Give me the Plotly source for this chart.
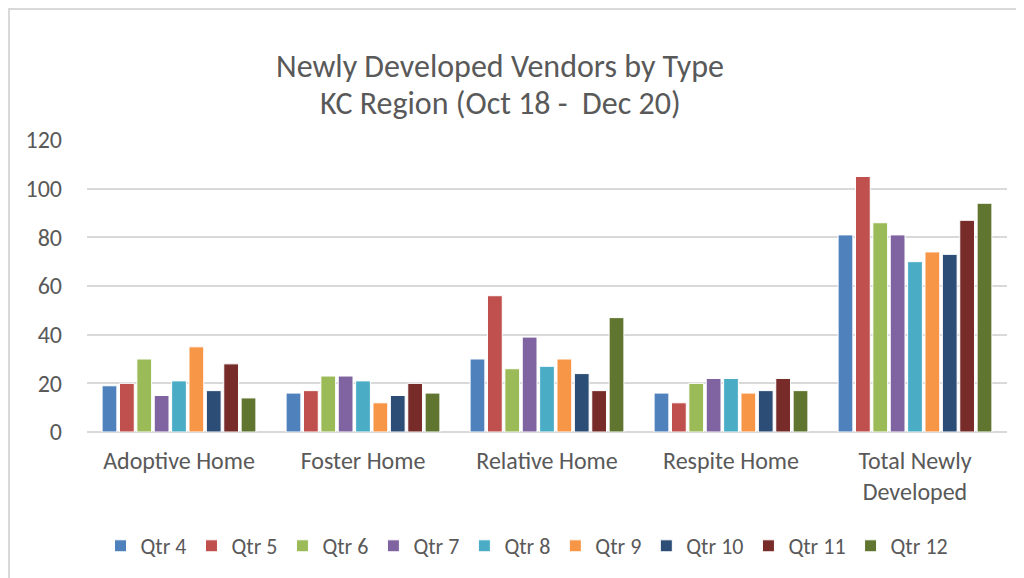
import plotly.graph_objects as go

categories = ["Adoptive Home", "Foster Home", "Relative Home", "Respite Home", "Total Newly<br>Developed"]
series_names = ["Qtr 4", "Qtr 5", "Qtr 6", "Qtr 7", "Qtr 8", "Qtr 9", "Qtr 10", "Qtr 11", "Qtr 12"]
qtr4 = [19, 16, 30, 16, 81]
qtr5 = [20, 17, 56, 12, 105]
qtr6 = [30, 23, 26, 20, 86]
qtr7 = [15, 23, 39, 22, 81]
qtr8 = [21, 21, 27, 22, 70]
qtr9 = [35, 12, 30, 16, 74]
qtr10 = [17, 15, 24, 17, 73]
qtr11 = [28, 20, 17, 22, 87]
qtr12 = [14, 16, 47, 17, 94]
colors = ["#4F81BD", "#C0504D", "#9BBB59", "#8064A2", "#4BACC6", "#F79646", "#2C4D75", "#772C2A", "#5F7530"]
y_ticks = [0, 20, 40, 60, 80, 100, 120]

series_values = [qtr4, qtr5, qtr6, qtr7, qtr8, qtr9, qtr10, qtr11, qtr12]

# page renders with an 8px body offset; work in page pixels and convert
OFF = 8
W, H = 1024 - OFF, 578 - OFF
ml, mr, mt, mb = 87 - OFF, 1024 - 1007, 140 - OFF, 578 - 432
pw, ph = W - ml - mr, H - mt - mb

def px_x(p):
    return (p - OFF - ml) / pw

def px_y(p):
    return (H - mb - (p - OFF)) / ph

font_family = "Carlito, Calibri, Lato, 'Open Sans', sans-serif"
gray = "#595959"

fig = go.Figure()
for name, vals, col in zip(series_names, series_values, colors):
    fig.add_trace(go.Bar(
        name=name, x=categories, y=vals,
        marker=dict(color=col, line=dict(color="white", width=1)),
    ))

fig.update_layout(
    width=W, height=H,
    margin=dict(l=ml, r=mr, t=mt, b=mb, autoexpand=False),
    paper_bgcolor="white", plot_bgcolor="white",
    barmode="group", bargap=0.15, bargroupgap=0.15,
    font=dict(family=font_family, color=gray, size=24),
    showlegend=True,
    legend=dict(orientation="h", x=px_x(527), xanchor="center", y=px_y(546), yanchor="middle",
                font=dict(size=22, color=gray), traceorder="normal", tracegroupgap=0, itemwidth=30),
    xaxis=dict(showline=False, ticks="", tickfont=dict(size=24, color=gray), ticklabelstandoff=12,
               automargin=False),
    yaxis=dict(range=[0, 120], tickvals=y_ticks, showgrid=True, gridcolor="#d9d9d9", gridwidth=1.5,
               zeroline=True, zerolinecolor="#d9d9d9", zerolinewidth=1.5,
               tickfont=dict(size=24, color=gray), ticklabelstandoff=24, automargin=False),
    annotations=[
        dict(text="Newly Developed Vendors by Type", x=px_x(500), y=px_y(66), xref="paper", yref="paper",
             showarrow=False, xanchor="center", yanchor="middle", font=dict(size=32, color=gray)),
        dict(text="KC Region (Oct 18 -  Dec 20)", x=px_x(500), y=px_y(104), xref="paper", yref="paper",
             showarrow=False, xanchor="center", yanchor="middle", font=dict(size=32, color=gray)),
    ],
    shapes=[
        dict(type="line", xref="paper", yref="paper", x0=px_x(8), x1=px_x(1024), y0=px_y(9), y1=px_y(9),
             line=dict(color="#d9d9d9", width=2)),
        dict(type="line", xref="paper", yref="paper", x0=px_x(9), x1=px_x(9), y0=px_y(8), y1=px_y(578),
             line=dict(color="#d9d9d9", width=2)),
    ],
)

fig.write_html("out.html")
